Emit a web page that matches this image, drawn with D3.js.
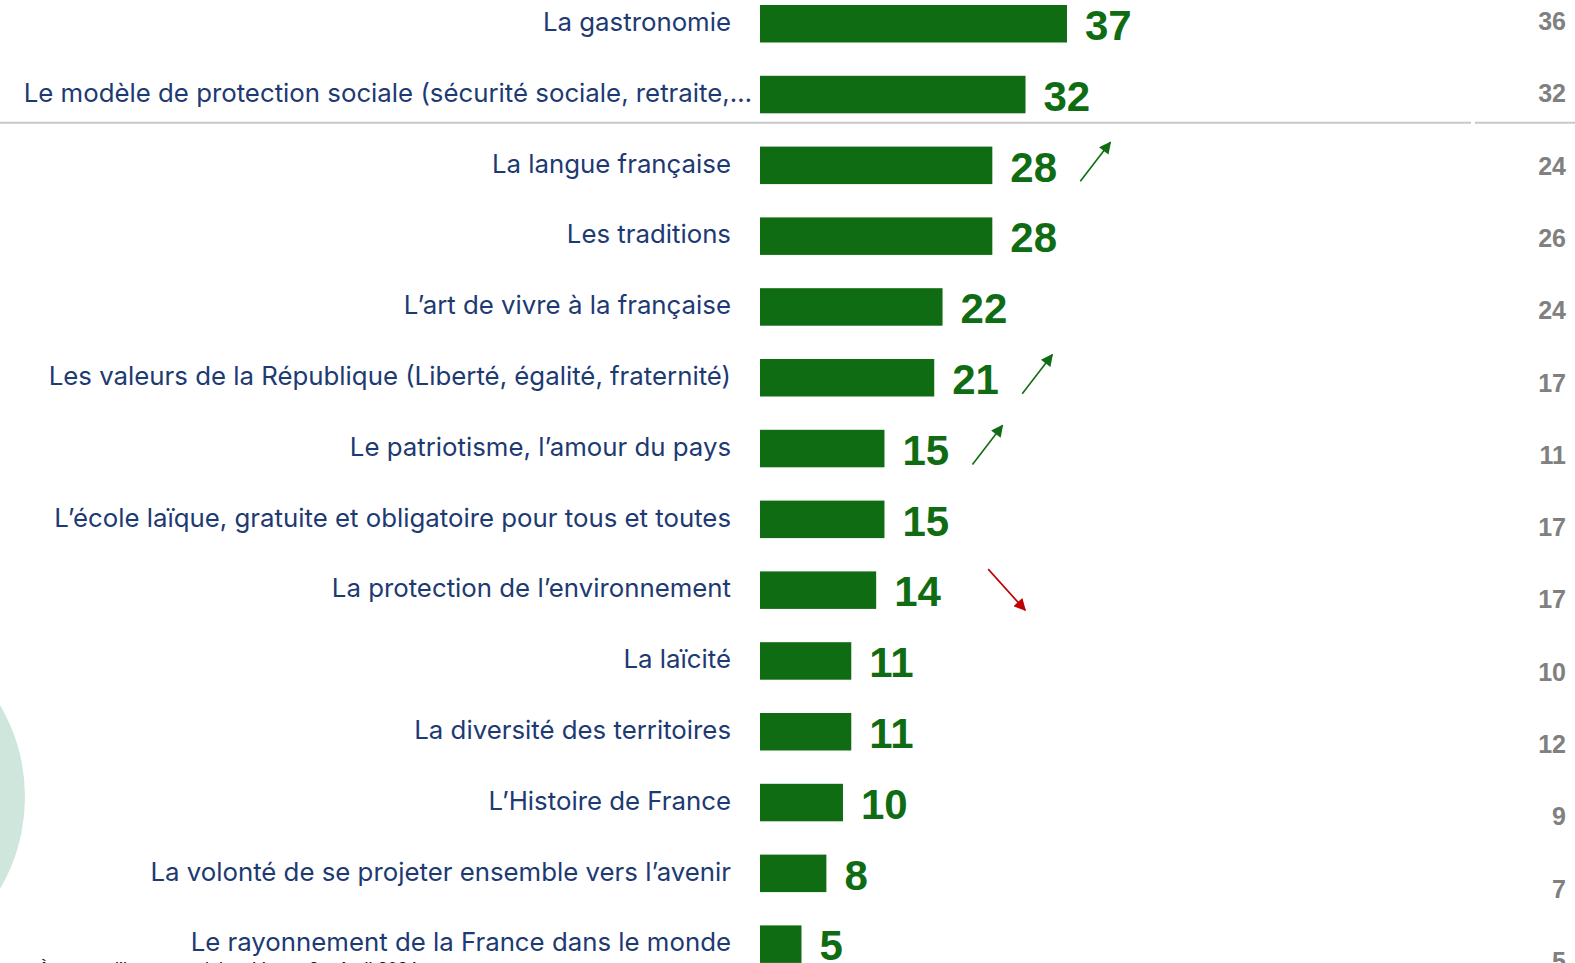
<!DOCTYPE html>
<html>
<head>
<meta charset="utf-8">
<script src="https://d3js.org/d3.v7.min.js"></script>
<style>
  body { margin: 0; background: #fff; overflow: hidden; }
  .cat { font-family: Inter, "Noto Sans", sans-serif; font-size: 25.8px; fill: #1d3a72; }
  .val { font-family: "Liberation Sans", Arial, sans-serif; font-weight: bold; font-size: 42px; fill: #0f6c12; }
  .prev { font-family: "Liberation Sans", Arial, sans-serif; font-weight: bold; font-size: 25px; fill: #808080; }
  .foot { font-family: "Liberation Sans", Arial, sans-serif; font-size: 18px; fill: #111; }
</style>
</head>
<body>
<div id="chart"></div>
<script>
// categories, current wave, previous wave, trend
var categories = [
  "La gastronomie",
  "Le modèle de protection sociale (sécurité sociale, retraite,…",
  "La langue française",
  "Les traditions",
  "L’art de vivre à la française",
  "Les valeurs de la République (Liberté, égalité, fraternité)",
  "Le patriotisme, l’amour du pays",
  "L’école laïque, gratuite et obligatoire pour tous et toutes",
  "La protection de l’environnement",
  "La laïcité",
  "La diversité des territoires",
  "L’Histoire de France",
  "La volonté de se projeter ensemble vers l’avenir",
  "Le rayonnement de la France dans le monde"
];
var values   = [37, 32, 28, 28, 22, 21, 15, 15, 14, 11, 11, 10, 8, 5];
var previous = [36, 32, 24, 26, 24, 17, 11, 17, 17, 10, 12, 9, 7, 5];
var trends   = ["", "", "up", "", "", "up", "up", "", "down", "", "", "", "", ""];
var footnote = "À travers l’image sociale – Vague 2 – Avril 2024";

var width = 1575, height = 963;
var barLeft = 760;

var svg = d3.select("#chart").append("svg")
    .attr("width", width)
    .attr("height", height);

var defs = svg.append("defs");
[["up", "#0f6c12"], ["down", "#c00000"]].forEach(function (m) {
  defs.append("marker")
      .attr("id", "head-" + m[0])
      .attr("viewBox", "0 0 10 10")
      .attr("refX", 9).attr("refY", 5)
      .attr("markerUnits", "userSpaceOnUse")
      .attr("markerWidth", 14).attr("markerHeight", 12)
      .attr("orient", "auto")
    .append("path")
      .attr("d", "M0,0 L10,5 L0,10 z")
      .attr("fill", m[1]);
});

// decorative mint circle on the left edge
svg.append("circle")
    .attr("cx", -157).attr("cy", 797).attr("r", 182)
    .attr("fill", "#cfe6dd");

// scales
var x = d3.scaleLinear().domain([0, 37]).range([0, 307]);

var step = 70.8, bw = 37.5;
var y = d3.scaleBand()
    .domain(categories)
    .range([5, 5 + 13 * step + bw])
    .paddingInner(1 - bw / step)
    .paddingOuter(0);

var yPrev = d3.scalePoint()
    .domain(categories)
    .range([30, 30 + 13 * 72.3]);

// separator under the first two items
var sepY = y(categories[1]) + y.bandwidth() + 9.5;
svg.append("line")
    .attr("x1", 0).attr("x2", 1471).attr("y1", sepY).attr("y2", sepY)
    .attr("stroke", "#c8c8c8").attr("stroke-width", 2);
svg.append("line")
    .attr("x1", 1475).attr("x2", width).attr("y1", sepY).attr("y2", sepY)
    .attr("stroke", "#c8c8c8").attr("stroke-width", 2);

var rows = categories.map(function (c, i) {
  return { cat: c, value: values[i], prev: previous[i], trend: trends[i], i: i };
});

// footnote (cut by the bottom edge)
svg.append("text")
    .attr("class", "foot")
    .attr("x", 38).attr("y", 975)
    .text(footnote);

// category labels
svg.append("g").selectAll("text")
  .data(rows)
  .enter().append("text")
    .attr("class", "cat")
    .attr("text-anchor", "end")
    .attr("x", function (d) { return d.i === 1 ? 752 : 731; })
    .attr("y", function (d) { return y(d.cat) + 26; })
    .text(function (d) { return d.cat; });

// bars
svg.append("g").selectAll("rect")
  .data(rows)
  .enter().append("rect")
    .attr("x", barLeft)
    .attr("y", function (d) { return y(d.cat); })
    .attr("width", function (d) { return x(d.value); })
    .attr("height", y.bandwidth())
    .attr("fill", "#0f6c12");

// value labels
svg.append("g").selectAll("text")
  .data(rows)
  .enter().append("text")
    .attr("class", "val")
    .attr("x", function (d) { return barLeft + x(d.value) + 18; })
    .attr("y", function (d) { return y(d.cat) + 35; })
    .text(function (d) { return d.value; });

// trend arrows
svg.append("g").selectAll("line")
  .data(rows.filter(function (d) { return d.trend; }))
  .enter().append("line")
    .attr("x1", function (d) { return barLeft + x(d.value) + (d.trend === "up" ? 88 : 112); })
    .attr("y1", function (d) {
      var c = y(d.cat) + y.bandwidth() / 2;
      return d.trend === "up" ? c + 16 : c - 21;
    })
    .attr("x2", function (d) { return barLeft + x(d.value) + (d.trend === "up" ? 118 : 149); })
    .attr("y2", function (d) {
      var c = y(d.cat) + y.bandwidth() / 2;
      return d.trend === "up" ? c - 23 : c + 20;
    })
    .attr("stroke", function (d) { return d.trend === "up" ? "#0f6c12" : "#c00000"; })
    .attr("stroke-width", 1.6)
    .attr("marker-end", function (d) { return "url(#head-" + d.trend + ")"; });

// previous wave column
svg.append("g").selectAll("text")
  .data(rows)
  .enter().append("text")
    .attr("class", "prev")
    .attr("text-anchor", "end")
    .attr("x", 1566)
    .attr("y", function (d) { return yPrev(d.cat); })
    .text(function (d) { return d.prev; });
</script>
</body>
</html>
